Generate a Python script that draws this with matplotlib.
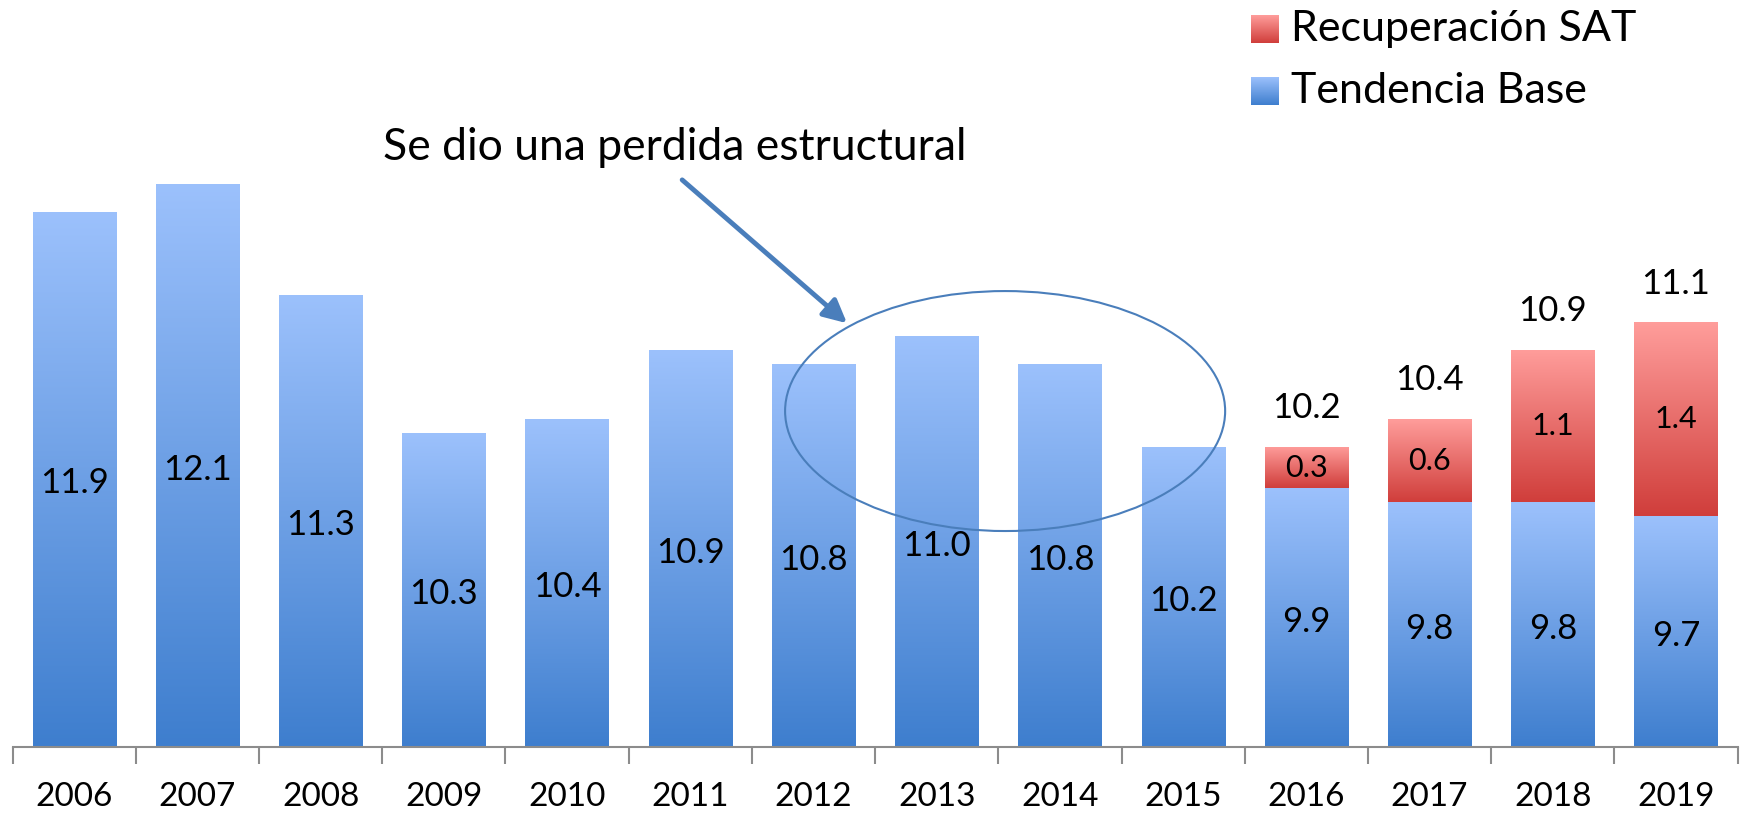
import numpy as np
import matplotlib
matplotlib.use("Agg")
import matplotlib.pyplot as plt
from matplotlib.colors import LinearSegmentedColormap
from matplotlib.patches import Ellipse, FancyArrowPatch

plt.rcParams['font.family'] = ['Lato', 'DejaVu Sans']

years = ['2006', '2007', '2008', '2009', '2010', '2011', '2012', '2013',
         '2014', '2015', '2016', '2017', '2018', '2019']
base = [11.9, 12.1, 11.3, 10.3, 10.4, 10.9, 10.8, 11.0, 10.8, 10.2, 9.9, 9.8, 9.8, 9.7]
sat = [0, 0, 0, 0, 0, 0, 0, 0, 0, 0, 0.3, 0.6, 1.1, 1.4]
totals = [None] * 10 + [10.2, 10.4, 10.9, 11.1]
legend_labels = ['Recuperación SAT', 'Tendencia Base']
annotation = 'Se dio una perdida estructural'

YMIN, YMAX = 8.03, 13.43

fig = plt.figure(figsize=(17.41, 8.16), dpi=100)
ax = fig.add_axes([12.6 / 1741, 69 / 816, (1737.6 - 12.6) / 1741, 747 / 816])

blue_cmap = LinearSegmentedColormap.from_list('b', ['#3E7ECE', '#9CC1FC'])
red_cmap = LinearSegmentedColormap.from_list('r', ['#D03E3B', '#FF9D9B'])
grad = np.linspace(0, 1, 256).reshape(-1, 1)

x = np.arange(len(years))
width = 0.675
b_bars = ax.bar(x, np.array(base) - YMIN, bottom=YMIN, width=width,
                color='none', edgecolor='none')
s_bars = ax.bar(x, sat, bottom=base, width=width, color='none', edgecolor='none')


def fill_gradient(bars, cmap):
    for p in bars:
        if p.get_height() <= 0:
            continue
        x0, y0 = p.get_x(), p.get_y()
        x1, y1 = x0 + p.get_width(), y0 + p.get_height()
        im = ax.imshow(grad, extent=[x0, x1, y0, y1], origin='lower',
                       aspect='auto', cmap=cmap, zorder=2, interpolation='bicubic')
        im.set_clip_path(p)


fill_gradient(b_bars, blue_cmap)
fill_gradient(s_bars, red_cmap)

fs = 25
for i in range(len(years)):
    ax.text(x[i], (YMIN + base[i]) / 2 - 0.03, f'{base[i]:.1f}', ha='center',
            va='center', fontsize=fs, zorder=5)
    if sat[i] > 0:
        ax.text(x[i], base[i] + sat[i] / 2, f'{sat[i]:.1f}', ha='center',
                va='center', fontsize=22, zorder=5)
        ax.text(x[i], totals[i] + 0.28, f'{totals[i]:.1f}', ha='center',
                va='center', fontsize=fs, zorder=5)

ax.set_xlim(-0.5, len(years) - 0.5)
ax.set_ylim(YMIN, YMAX)
ax.set_yticks([])
for s in ['left', 'right', 'top']:
    ax.spines[s].set_visible(False)
ax.spines['bottom'].set_color('#8C8C8C')
ax.spines['bottom'].set_linewidth(1.5)
ax.set_xticks(x)
ax.set_xticklabels(years, fontsize=24)
ax.tick_params(axis='x', which='major', length=0, pad=25)
ax.set_xticks(np.arange(-0.5, len(years)), minor=True)
ax.tick_params(axis='x', which='minor', length=12, width=1.5, color='#8C8C8C')

# Ellipse around 2012-2014
ellipse_center_x = (1005 - 12.6) / 123.2 - 0.5
ell = Ellipse((ellipse_center_x, YMIN + (747 - 411) / 138.35), 440 / 123.2,
              240 / 138.35, facecolor='none', edgecolor='#4A7EBB', linewidth=1.5,
              zorder=6)
ax.add_patch(ell)

# Annotation text and arrow
ax.text((383 - 12.6) / 123.2 - 0.5, YMIN + (747 - 147) / 138.35, annotation,
        fontsize=32, ha='left', va='center', zorder=6)
arr = FancyArrowPatch(((680 - 12.6) / 123.2 - 0.5, YMIN + (747 - 178) / 138.35),
                      ((849 - 12.6) / 123.2 - 0.5, YMIN + (747 - 325) / 138.35),
                      arrowstyle='-|>,head_length=14,head_width=7',
                      color='#4A7EBB', linewidth=3.5, zorder=6,
                      mutation_scale=1)
ax.add_patch(arr)

# Legend (manual gradient squares)
leg_items = [(legend_labels[0], red_cmap, 29), (legend_labels[1], blue_cmap, 91)]
for label, cmap, yc in leg_items:
    x0f, x1f = 1251 / 1741, 1279 / 1741
    y0f, y1f = 1 - (yc + 14) / 816, 1 - (yc - 14) / 816
    lax = fig.add_axes([x0f, y0f, x1f - x0f, y1f - y0f])
    lax.imshow(grad, origin='lower', aspect='auto', cmap=cmap, extent=[0, 1, 0, 1])
    lax.axis('off')
    fig.text(1291 / 1741, 1 - yc / 816, label, fontsize=31, ha='left',
             va='center')

fig.savefig('out.png', dpi=100)
